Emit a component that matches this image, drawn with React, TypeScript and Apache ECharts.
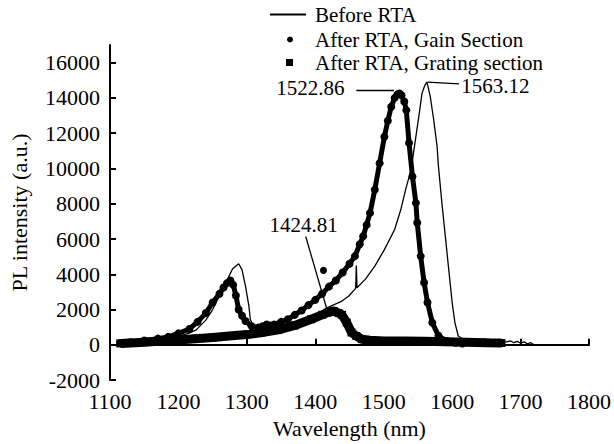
import React, { useEffect, useRef } from "react";
import * as echarts from "echarts";

// Wavelength (nm) / PL intensity (a.u.) pairs
const beforeRTA: [number, number][] = [
  [1118, 120], [1140, 200], [1160, 300], [1180, 380], [1200, 500], [1215, 650], [1226, 850],
  [1240, 1400], [1250, 2000], [1260, 2800], [1269, 3500], [1279, 4300], [1288, 4600],
  [1293, 4250], [1298, 3330], [1303, 2200], [1305, 1450], [1310, 980], [1320, 850],
  [1340, 900], [1360, 1000], [1374, 1170], [1400, 1650], [1417, 2100], [1439, 2480],
  [1449, 2770], [1459, 3200], [1460, 4500], [1461, 3240], [1473, 3710], [1487, 4460],
  [1501, 5400], [1516, 6540], [1525, 7670], [1532, 8800], [1540, 9930], [1547, 11800],
  [1552, 13140], [1556, 14270], [1560, 14700], [1563, 14900], [1565, 14600], [1568, 14080],
  [1573, 12760], [1578, 11250], [1580, 10120], [1585, 8050], [1590, 6160], [1595, 4280],
  [1600, 2400], [1604, 1260], [1609, 500], [1616, 320], [1630, 260], [1650, 220],
  [1670, 190], [1680, 170], [1685, 230], [1690, 120], [1695, 200], [1700, 100],
  [1705, 170], [1710, 60], [1715, 120], [1719, 20],
];

const gainSection: [number, number][] = [
  [1115, 100], [1130, 150], [1150, 250], [1170, 350], [1185, 450], [1200, 650], [1216, 900],
  [1228, 1300], [1240, 1800], [1250, 2400], [1260, 2900], [1266, 3250], [1271, 3500],
  [1276, 3650], [1280, 3400], [1284, 2800], [1288, 2000], [1293, 1650], [1298, 1350],
  [1307, 1050], [1317, 980], [1323, 1050], [1329, 1150], [1335, 1100], [1340, 1150],
  [1350, 1300], [1360, 1450], [1370, 1700], [1380, 1950], [1390, 2250], [1400, 2550],
  [1410, 2900], [1420, 3300], [1430, 3650], [1440, 4100], [1450, 4600], [1458, 5030],
  [1465, 5700], [1470, 6160], [1475, 6800], [1480, 7480], [1487, 8800], [1494, 10300],
  [1501, 11800], [1506, 12700], [1511, 13500], [1516, 14000], [1520, 14200], [1523, 14250],
  [1526, 14150], [1530, 13800], [1533, 13300], [1537, 11450], [1542, 9550], [1547, 8050],
  [1549, 6920], [1554, 5030], [1559, 3530], [1564, 2400], [1571, 1260], [1580, 510],
  [1592, 220], [1605, 120], [1615, 80],
];

const gainOutliers: [number, number][] = [[1412, 4220]];

const gratingSection: [number, number][] = [
  [1115, 80], [1130, 110], [1150, 150], [1175, 210], [1200, 280], [1225, 350], [1250, 420],
  [1274, 500], [1300, 580], [1320, 680], [1346, 850], [1370, 1100], [1394, 1450],
  [1410, 1700], [1418, 1830], [1427, 1920], [1434, 1800], [1439, 1700], [1446, 1260],
  [1453, 700], [1460, 500], [1468, 320], [1480, 260], [1500, 220], [1530, 210],
  [1560, 200], [1590, 180], [1620, 150], [1650, 120], [1672, 100],
];

const seriesNames = ["Before RTA", "After RTA, Gain Section", "After RTA, Grating section"];
const peakLabels = ["1522.86", "1563.12", "1424.81"];
const yTicks = [-2000, 0, 2000, 4000, 6000, 8000, 10000, 12000, 14000, 16000];
const xTicks = [1100, 1200, 1300, 1400, 1500, 1600, 1700, 1800];

// annotation anchors (data units)
const labelAnchors: [number, number][] = [[1393, 14569], [1663, 14682], [1383, 6822]];
const leaderLines: [number, number][][] = [
  [[1460, 14455], [1515, 14455]],
  [[1564, 14890], [1610, 14800]],
  [[1386, 6143], [1417, 2015]],
];

const FONT = "Liberation Serif";
const FS = 22;
const FS_LEG = 21;
const FS_ANN = 21;

export default function App() {
  const ref = useRef<HTMLDivElement>(null);
  useEffect(() => {
    if (!ref.current) return;
    const chart = echarts.init(ref.current, null, { renderer: "svg" });
    const text = { fontFamily: FONT, fontSize: FS, color: "#000" };
    const legText = { fontFamily: FONT, fontSize: FS_LEG, color: "#000" };
    const legendBase = {
      orient: "vertical" as const,
      padding: 0,
      selectedMode: false,
      inactiveColor: "#000",
    };
    const fmt = (v: number) => String(v);
    chart.setOption({
      animation: false,
      backgroundColor: "#fff",
      textStyle: { fontFamily: FONT, fontSize: FS, color: "#000" },
      grid: { left: 109, right: 18, top: 45, bottom: 63 },
      legend: [
        {
          ...legendBase,
          left: 270,
          top: 4,
          itemWidth: 36,
          itemHeight: 2,
          textStyle: { ...legText, padding: [0, 0, 0, 4] },
          data: [{ name: seriesNames[0], icon: "path://M0,0H36V2H0Z", itemStyle: { color: "#000" } }],
        },
        {
          ...legendBase,
          left: 287,
          top: 29,
          itemWidth: 6,
          itemHeight: 6,
          textStyle: { ...legText, padding: [0, 0, 0, 17] },
          data: [{ name: seriesNames[1], icon: "circle", itemStyle: { color: "#000" } }],
        },
        {
          ...legendBase,
          left: 286,
          top: 52,
          itemWidth: 7,
          itemHeight: 7,
          textStyle: { ...legText, padding: [0, 0, 0, 17] },
          data: [{ name: seriesNames[2], icon: "rect", itemStyle: { color: "#000" } }],
        },
      ],
      xAxis: {
        type: "value",
        min: 1100,
        max: 1800,
        interval: 100,
        name: "Wavelength (nm)",
        nameLocation: "middle",
        nameGap: 33,
        nameTextStyle: { ...text },
        axisLine: { show: true, lineStyle: { color: "#000", width: 2 } },
        axisTick: { show: true, inside: true, length: 6, lineStyle: { color: "#000", width: 2 }, customValues: xTicks },
        axisLabel: { fontFamily: FONT, fontSize: FS, color: "#000", margin: 10, formatter: fmt, customValues: xTicks },
        splitLine: { show: false },
      },
      yAxis: {
        type: "value",
        min: -2000,
        max: 17000,
        interval: 2000,
        name: "PL intensity (a.u.)",
        nameLocation: "middle",
        nameGap: 80,
        nameTextStyle: { ...text },
        axisLine: { show: true, lineStyle: { color: "#000", width: 2 } },
        axisTick: { show: true, inside: true, length: 6, lineStyle: { color: "#000", width: 2 }, customValues: yTicks },
        axisLabel: { fontFamily: FONT, fontSize: FS, color: "#000", margin: 10, formatter: fmt, customValues: yTicks },
        splitLine: { show: false },
      },
      series: [
        {
          name: seriesNames[2],
          type: "line",
          data: gratingSection,
          symbol: "rect",
          symbolSize: 8,
          showAllSymbol: true,
          color: "#000",
          lineStyle: { color: "#000", width: 9 },
          itemStyle: { color: "#000" },
          z: 2,
        },
        {
          name: seriesNames[1],
          type: "line",
          data: gainSection,
          symbol: "circle",
          symbolSize: 8,
          showAllSymbol: true,
          color: "#000",
          lineStyle: { color: "#000", width: 5 },
          itemStyle: { color: "#000" },
          z: 3,
        },
        {
          name: seriesNames[1],
          type: "scatter",
          data: gainOutliers,
          symbol: "circle",
          symbolSize: 7,
          color: "#000",
          itemStyle: { color: "#000", opacity: 1 },
          z: 3,
        },
        {
          name: seriesNames[0],
          type: "line",
          data: beforeRTA,
          symbol: "none",
          color: "#000",
          lineStyle: { color: "#000", width: 1.3 },
          z: 4,
          markLine: {
            silent: true,
            symbol: ["none", "none"],
            lineStyle: { color: "#000", width: 1.3, type: "solid" },
            label: { show: false },
            data: leaderLines.map(([a, b]) => [{ coord: a }, { coord: b }]),
          },
          markPoint: {
            silent: true,
            symbol: "circle",
            symbolSize: 0,
            label: { show: true, position: "inside", formatter: "{b}", fontFamily: FONT, fontSize: FS_ANN, color: "#000" },
            data: peakLabels.map((name, i) => ({ name, coord: labelAnchors[i] })),
          },
        },
      ],
    });
    return () => chart.dispose();
  }, []);
  return (
    <div
      ref={ref}
      style={{ position: "absolute", left: 0, top: 0, width: 614, height: 444 }}
    />
  );
}
